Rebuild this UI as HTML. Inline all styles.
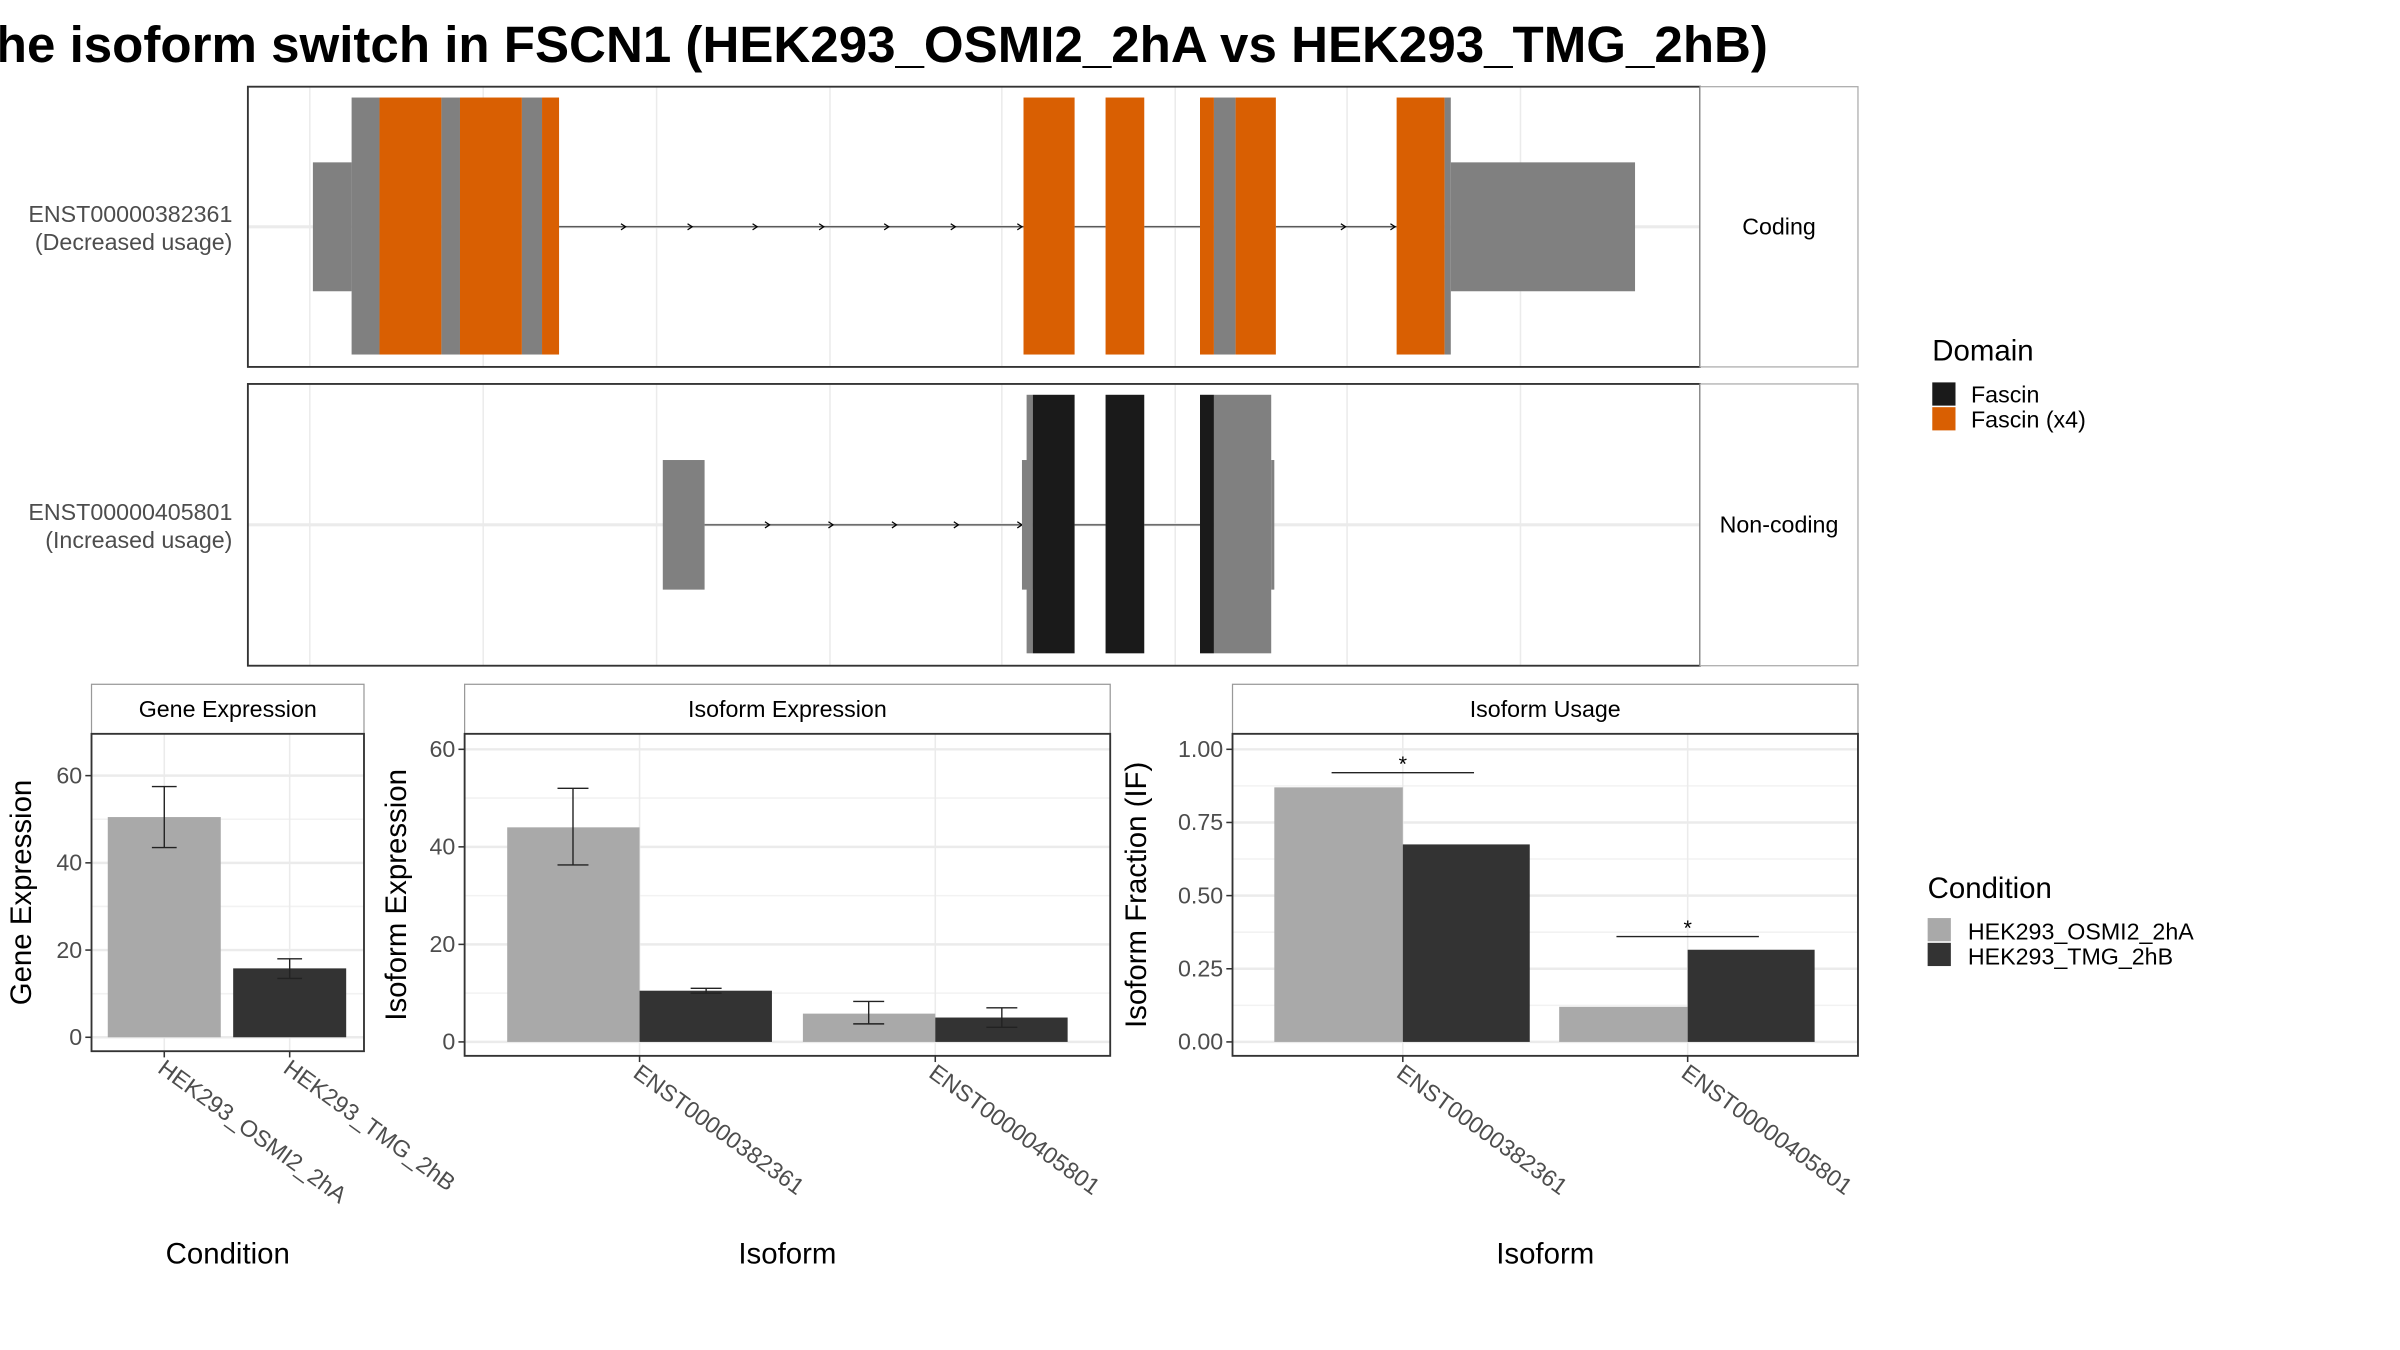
<!DOCTYPE html>
<html><head><meta charset="utf-8">
<style>html,body{margin:0;padding:0;background:#fff}svg{display:block}text{font-family:"Liberation Sans",sans-serif}</style>
</head><body>
<svg id="fig" width="2400" height="1350" viewBox="0 0 1550 872" xmlns="http://www.w3.org/2000/svg">
<defs><clipPath id="tc"><rect x="0" y="0" width="1207" height="60"/></clipPath>
<marker id="arr" markerWidth="6" markerHeight="6" refX="4" refY="3" orient="auto"><path d="M1,1 L4,3 L1,5" fill="none" stroke="#000" stroke-width="0.6"/></marker></defs>
<text x="-23" y="40" font-size="33" font-weight="bold" clip-path="url(#tc)">The isoform switch in FSCN1 (HEK293_OSMI2_2hA vs HEK293_TMG_2hB)</text>
<g id="tx"></g>
<g id="bars"></g>
<g>
<text x="1248" y="233" font-size="19">Domain</text>
<rect x="1248" y="247" width="15" height="15" fill="#1a1a1a"/>
<text x="1273" y="260" font-size="15">Fascin</text>
<rect x="1248" y="263" width="15" height="15" fill="#d95f02"/>
<text x="1273" y="276" font-size="15">Fascin (x4)</text>
</g>
<g>
<text x="1245" y="580" font-size="19">Condition</text>
<rect x="1245" y="593" width="15" height="15" fill="#a9a9a9"/>
<text x="1271" y="607" font-size="15">HEK293_OSMI2_2hA</text>
<rect x="1245" y="609" width="15" height="15" fill="#333"/>
<text x="1271" y="623" font-size="15">HEK293_TMG_2hB</text>
</g>
</svg>
<script>
// ---- transcript structure data (genomic display units) ----
const tx1Utr = [[202,227],[937,1056]];
const tx1Cds = [[227,245,'g'],[245,285,'o'],[285,297,'g'],[297,337,'o'],[337,350,'g'],[350,361,'o'],[661,694,'o'],[714,739,'o'],[775,784,'o'],[784,798,'g'],[798,824,'o'],[902,933,'o'],[933,937,'g']];
const tx1Introns = [[361,661],[694,714],[739,775],[824,902]];
const tx1Arrows = [403,446,488,531,573,616,659,868,900];
const tx2Utr = [[428,455],[660,667],[821,823]];
const tx2Cds = [[663,667,'g'],[667,694,'b'],[714,739,'b'],[775,784,'b'],[784,821,'g']];
const tx2Introns = [[455,661],[694,714],[739,775]];
const tx2Arrows = [496,537,578,618,659];
// ---- bar chart data ----
const conditions = ['HEK293_OSMI2_2hA','HEK293_TMG_2hB'];
const geneExpr = [50.5, 15.8];
const geneErrLo = [43.5, 13.5];
const geneErrHi = [57.5, 18.0];
const geneTicks = [0,20,40,60];
const isoforms = ['ENST00000382361','ENST00000405801'];
const isoExprA = [44.0, 5.8];
const isoExprB = [10.5, 5.0];
const isoErrLoA = [36.3, 3.7];
const isoErrHiA = [52.0, 8.3];
const isoErrLoB = [10.0, 3.0];
const isoErrHiB = [11.0, 7.0];
const isoExprTicks = [0,20,40,60];
const ifA = [0.87, 0.12];
const ifB = [0.675, 0.315];
const ifSig = [0.92, 0.36];
const ifTicks = ['0.00','0.25','0.50','0.75','1.00'];

const NS='http://www.w3.org/2000/svg';
function mk(parent, tag, attrs, txt){const e=document.createElementNS(NS,tag);for(const k in attrs)e.setAttribute(k,attrs[k]);if(txt!==undefined)e.textContent=txt;parent.appendChild(e);return e;}
const colors={g:'#808080',o:'#d95f02',b:'#1a1a1a'};

// ---- transcript panels ----
const tx=document.getElementById('tx');
function txPanel(y0,y1,label1,label2,strip,utr,cds,introns,arrows,idx){
  const cy=(y0+y1)/2;
  let e=mk(tx,'rect',{x:160,y:y0,width:938,height:y1-y0,fill:'#fff',stroke:'none'});
  
  
  [200,312,424,536,647,759,870,982].forEach(x=>{const l=mk(tx,'line',{x1:x,x2:x,y1:y0,y2:y1,stroke:'#ebebeb','stroke-width':1});
    
    });
  e=mk(tx,'line',{x1:160,x2:1098,y1:cy,y2:cy,stroke:'#ebebeb','stroke-width':2});
  
  
  introns.forEach(([a,b])=>{const l=mk(tx,'line',{x1:a,x2:b,y1:cy,y2:cy,stroke:'#444','stroke-width':0.8});
    
    });
  arrows.forEach(x=>{const p=mk(tx,'path',{d:`M${x-2},${cy-2} L${x+1},${cy} L${x-2},${cy+2}`,fill:'none',stroke:'#000','stroke-width':0.8});
    
    });
  const hh=(y1-y0);
  utr.forEach(([a,b])=>{const r=mk(tx,'rect',{x:a,y:cy-hh*0.23,width:b-a,height:hh*0.46,fill:'#808080'});
    
    });
  cds.forEach(([a,b,c])=>{const r=mk(tx,'rect',{x:a,y:y0+7,width:b-a,height:hh-15,fill:colors[c]});
    
    });
  e=mk(tx,'rect',{x:160,y:y0,width:938,height:y1-y0,fill:'none',stroke:'#333','stroke-width':1.2});
  
  
  e=mk(tx,'rect',{x:1098,y:y0,width:102,height:y1-y0,fill:'#fff',stroke:'#aaa','stroke-width':0.8});
  
  
  e=mk(tx,'text',{x:1149,y:cy+5,'font-size':15,'text-anchor':'middle'},strip);
  
  
  e=mk(tx,'text',{x:150,y:cy-3,'font-size':15,'text-anchor':'end',fill:'#4d4d4d'},label1);
  
  
  e=mk(tx,'text',{x:150,y:cy+15,'font-size':15,'text-anchor':'end',fill:'#4d4d4d'},label2);
  
  
}
txPanel(56,237,'ENST00000382361','(Decreased usage)','Coding',tx1Utr,tx1Cds,tx1Introns,tx1Arrows,1);
txPanel(248,430,'ENST00000405801','(Increased usage)','Non-coding',tx2Utr,tx2Cds,tx2Introns,tx2Arrows,2);

// ---- bar panels ----
const bg=document.getElementById('bars');
function panel(o){
  const {x0,x1,y0,y1,title,yTitle,yTitleX,xTitle,vmax,ticks,tickLabels,minor,cats,catX}=o;
  const y=v=>o.yZero-(v/vmax)*(o.yZero-o.yTop);
  let e=mk(bg,'rect',{x:x0,y:442,width:x1-x0,height:32,fill:'#fff',stroke:'#999','stroke-width':0.8});
  
  
  e=mk(bg,'text',{x:(x0+x1)/2,y:463,'font-size':15,'text-anchor':'middle'},title);
  
  
  minor.forEach(v=>{const l=mk(bg,'line',{x1:x0,x2:x1,y1:y(v),y2:y(v),stroke:'#f2f2f2','stroke-width':1});
    
    });
  ticks.forEach((v,i)=>{const l=mk(bg,'line',{x1:x0,x2:x1,y1:y(v),y2:y(v),stroke:'#ebebeb','stroke-width':1.6});
    
    
    const t=mk(bg,'line',{x1:x0-4,x2:x0,y1:y(v),y2:y(v),stroke:'#333','stroke-width':1});
    
    
    const tl=mk(bg,'text',{x:x0-6,y:y(v)+5,'font-size':15,'text-anchor':'end',fill:'#4d4d4d'},tickLabels[i]);
    
    });
  catX.forEach((cx,i)=>{const l=mk(bg,'line',{x1:cx,x2:cx,y1:y0,y2:y1,stroke:'#ebebeb','stroke-width':1});
    
    
    const t=mk(bg,'line',{x1:cx,x2:cx,y1:y1,y2:y1+4,stroke:'#333','stroke-width':1});
    
    
    const tl=mk(bg,'text',{x:cx-5,y:y1+13,'font-size':15,fill:'#4d4d4d',transform:`rotate(36 ${cx-5} ${y1+13})`},cats[i]);
    
    });
  e=mk(bg,'text',{x:yTitleX,y:(y0+y1)/2,'font-size':19,'text-anchor':'middle',transform:`rotate(-90 ${yTitleX} ${(y0+y1)/2})`},yTitle);
  
  
  e=mk(bg,'text',{x:(x0+x1)/2,y:816,'font-size':19,'text-anchor':'middle'},xTitle);
  
  
  return y;
}
function bar(x,w,v,y,fill,name){const r=mk(bg,'rect',{x:x,y:y(v),width:w,height:y(0)-y(v),fill:fill});
  
  }
function err(cx,lo,hi,y,hw){const g=mk(bg,'path',{d:`M${cx-hw},${y(hi)} H${cx+hw} M${cx},${y(hi)} V${y(lo)} M${cx-hw},${y(lo)} H${cx+hw}`,stroke:'#222','stroke-width':0.9,fill:'none'});
  
  }
function border(x0,x1,y0,y1){const r=mk(bg,'rect',{x:x0,y:y0,width:x1-x0,height:y1-y0,fill:'none',stroke:'#333','stroke-width':1.2});
  
  }

// Gene expression
let y=panel({x0:59,x1:235,y0:474,y1:679,title:'Gene Expression',yTitle:'Gene Expression',yTitleX:20,xTitle:'Condition',vmax:60,yZero:670,yTop:501,ticks:geneTicks,tickLabels:geneTicks.map(String),minor:[10,30,50],cats:conditions,catX:[106,187]});
const gx=[106,187], gfill=['#a9a9a9','#333'];
geneExpr.forEach((v,i)=>{bar(gx[i]-36.5,73,v,y,gfill[i],'gene-expression-bar');err(gx[i],geneErrLo[i],geneErrHi[i],y,8);});
border(59,235,474,679);

// Isoform expression
y=panel({x0:300,x1:717,y0:474,y1:682,title:'Isoform Expression',yTitle:'Isoform Expression',yTitleX:262,xTitle:'Isoform',vmax:60,yZero:673,yTop:484,ticks:isoExprTicks,tickLabels:isoExprTicks.map(String),minor:[10,30,50],cats:isoforms,catX:[413,604]});
const ix=[413,604];
isoforms.forEach((c,i)=>{bar(ix[i]-85.5,85.5,isoExprA[i],y,'#a9a9a9','isoform-expression-bar-osmi2');bar(ix[i],85.5,isoExprB[i],y,'#333','isoform-expression-bar-tmg');
  err(ix[i]-43,isoErrLoA[i],isoErrHiA[i],y,10);err(ix[i]+43,isoErrLoB[i],isoErrHiB[i],y,10);});
border(300,717,474,682);

// Isoform usage
y=panel({x0:796,x1:1200,y0:474,y1:682,title:'Isoform Usage',yTitle:'Isoform Fraction (IF)',yTitleX:740,xTitle:'Isoform',vmax:1,yZero:673,yTop:484,ticks:ifTicks.map(Number),tickLabels:ifTicks,minor:[0.125,0.375,0.625,0.875],cats:isoforms,catX:[906,1090]});
const ux=[906,1090];
isoforms.forEach((c,i)=>{bar(ux[i]-83,83,ifA[i],y,'#a9a9a9','isoform-usage-bar-osmi2');bar(ux[i],82,ifB[i],y,'#333','isoform-usage-bar-tmg');
  const l=mk(bg,'line',{x1:ux[i]-46,x2:ux[i]+46,y1:y(ifSig[i]),y2:y(ifSig[i]),stroke:'#222','stroke-width':0.9});
  
  
  const t=mk(bg,'text',{x:ux[i],y:y(ifSig[i])-1,'font-size':14,'text-anchor':'middle'},'*');
  
  });
border(796,1200,474,682);
</script>
</body></html>
